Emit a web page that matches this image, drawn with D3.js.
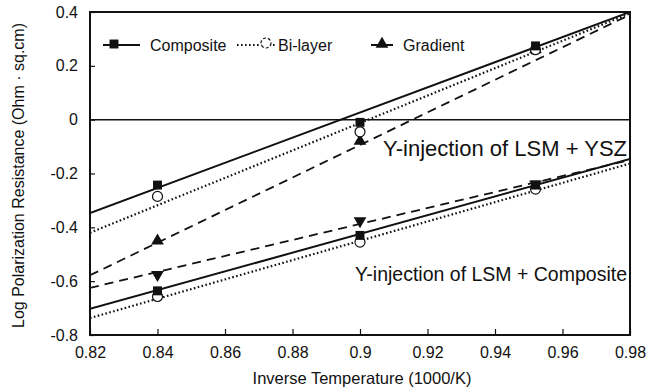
<!DOCTYPE html>
<html>
<head>
<meta charset="utf-8">
<script src="https://cdn.jsdelivr.net/npm/d3@7"></script>
<style>
  html, body { margin: 0; padding: 0; background: #fff; }
  svg { display: block; }
  text { font-family: "Liberation Sans", Arial, sans-serif; fill: #111; }
</style>
</head>
<body>
<svg id="chart" width="659" height="389"></svg>
<script>
// ---------- data ----------
const xTicks = [0.82, 0.84, 0.86, 0.88, 0.9, 0.92, 0.94, 0.96, 0.98];
const xTickLabels = ["0.82", "0.84", "0.86", "0.88", "0.9", "0.92", "0.94", "0.96", "0.98"];
const yTicks = [-0.8, -0.6, -0.4, -0.2, 0, 0.2, 0.4];
const yTickLabels = ["-0.8", "-0.6", "-0.4", "-0.2", "0", "0.2", "0.4"];

const tempX = [0.84, 0.9, 0.952];
// LSM + YSZ group
const yszComposite = [-0.243, -0.01, 0.274];
const yszBilayer   = [-0.285, -0.045, 0.26];
const yszGradient  = [-0.45, -0.08, 0.26];
// LSM + Composite group
const compComposite = [-0.636, -0.43, -0.243];
const compBilayer   = [-0.657, -0.455, -0.258];
const compGradient  = [-0.576, -0.376, -0.24];

// fitted lines (values at x = 0.82 and x = 0.98)
const fitX = [0.82, 0.98];
const yszCompositeFit  = [-0.347, 0.40];
const yszBilayerFit    = [-0.42, 0.395];
const yszGradientFit   = [-0.578, 0.39];
const compCompositeFit = [-0.703, -0.146];
const compBilayerFit   = [-0.737, -0.163];
const compGradientFit  = [-0.625, -0.150];

const legendNames = ["Composite", "Bi-layer", "Gradient"];
const groupLabels = ["Y-injection of LSM + YSZ", "Y-injection of LSM + Composite"];

// ---------- layout ----------
const svg = d3.select("#chart");
const M = { left: 90, right: 630, top: 12, bottom: 335 };
const x = d3.scaleLinear().domain([0.82, 0.98]).range([M.left, M.right]);
const y = d3.scaleLinear().domain([-0.8, 0.4]).range([M.bottom, M.top]);

const styles = {
  composite: { dash: null, width: 2 },
  bilayer:   { dash: "1.6,2.4", width: 2.2 },
  gradient:  { dash: "9,6", width: 1.8 }
};

svg.append("defs").append("clipPath").attr("id", "clip")
  .append("rect").attr("x", M.left).attr("y", M.top)
  .attr("width", M.right - M.left).attr("height", M.bottom - M.top);

const plot = svg.append("g").attr("clip-path", "url(#clip)");

// zero line
plot.append("line")
  .attr("x1", x(0.82)).attr("x2", x(0.98))
  .attr("y1", y(0)).attr("y2", y(0))
  .attr("stroke", "#111").attr("stroke-width", 1.5);

const line = d3.line().x(d => x(d[0])).y(d => y(d[1]));

function fit(vals, st) {
  plot.append("path")
    .datum(fitX.map((v, i) => [v, vals[i]]))
    .attr("d", line)
    .attr("fill", "none")
    .attr("stroke", "#111")
    .attr("stroke-width", st.width)
    .attr("stroke-dasharray", st.dash);
}
fit(yszCompositeFit, styles.composite);
fit(yszBilayerFit, styles.bilayer);
fit(yszGradientFit, styles.gradient);
fit(compCompositeFit, styles.composite);
fit(compBilayerFit, styles.bilayer);
fit(compGradientFit, styles.gradient);

const sqSym = d3.symbol().type(d3.symbolSquare).size(80);
const triUp = d3.symbol().type(d3.symbolTriangle).size(70);

function markers(vals, kind) {
  const g = plot.append("g");
  vals.forEach((v, i) => {
    const cx = x(tempX[i]), cy = y(v);
    if (kind === "square") {
      g.append("path").attr("d", sqSym()).attr("transform", `translate(${cx},${cy})`).attr("fill", "#111");
    } else if (kind === "circle") {
      g.append("circle").attr("cx", cx).attr("cy", cy).attr("r", 5)
        .attr("fill", "#fff").attr("stroke", "#111").attr("stroke-width", 1.2);
    } else if (kind === "up") {
      g.append("path").attr("d", triUp()).attr("transform", `translate(${cx},${cy})`).attr("fill", "#111");
    } else if (kind === "down") {
      g.append("path").attr("d", triUp()).attr("transform", `translate(${cx},${cy}) rotate(180)`).attr("fill", "#111");
    }
  });
}
markers(yszGradient, "up");
markers(yszBilayer, "circle");
markers(yszComposite, "square");
markers(compGradient, "down");
markers(compBilayer, "circle");
markers(compComposite, "square");

// ---------- axes ----------
const xAxis = d3.axisBottom(x).tickValues(xTicks).tickFormat((d, i) => xTickLabels[i])
  .tickSizeInner(-6).tickSizeOuter(0).tickPadding(12);
const gx = svg.append("g").attr("transform", `translate(0,${M.bottom})`).call(xAxis);
gx.select(".domain").remove();
gx.selectAll("line").attr("stroke", "#111").attr("stroke-width", 1.2);
gx.selectAll("text").attr("font-size", 16).attr("fill", "#111")
  .attr("font-family", "'Liberation Sans', Arial, sans-serif");

const yAxis = d3.axisLeft(y).tickValues(yTicks).tickFormat((d, i) => yTickLabels[i])
  .tickSizeInner(-5).tickSizeOuter(0).tickPadding(12);
const gy = svg.append("g").attr("transform", `translate(${M.left},0)`).call(yAxis);
gy.select(".domain").remove();
gy.selectAll("line").attr("stroke", "#111").attr("stroke-width", 1.2);
gy.selectAll("text").attr("font-size", 16).attr("fill", "#111")
  .attr("font-family", "'Liberation Sans', Arial, sans-serif");

// frame
svg.append("rect")
  .attr("x", M.left).attr("y", M.top)
  .attr("width", M.right - M.left).attr("height", M.bottom - M.top)
  .attr("fill", "none").attr("stroke", "#111").attr("stroke-width", 2);

// axis titles
svg.append("text")
  .attr("x", (M.left + M.right) / 2 + 2).attr("y", 384)
  .attr("text-anchor", "middle").attr("font-size", 16.5)
  .text("Inverse Temperature (1000/K)");
svg.append("text")
  .attr("transform", `translate(24,${(M.top + M.bottom) / 2 + 2}) rotate(-90)`)
  .attr("text-anchor", "middle").attr("font-size", 16)
  .text("Log Polarization Resistance (Ohm · sq.cm)");

// group labels
svg.append("text").attr("x", 627).attr("y", 156).attr("text-anchor", "end")
  .attr("font-size", 22).text(groupLabels[0]);
svg.append("text").attr("x", 627).attr("y", 281).attr("text-anchor", "end")
  .attr("font-size", 19.5).text(groupLabels[1]);

// ---------- legend ----------
const lg = svg.append("g");
const ly = 45;
// Composite
lg.append("line").attr("x1", 103).attr("x2", 140).attr("y1", ly).attr("y2", ly)
  .attr("stroke", "#111").attr("stroke-width", 2.2);
lg.append("path").attr("d", sqSym()).attr("transform", `translate(114,${ly - 1})`).attr("fill", "#111");
lg.append("text").attr("x", 150).attr("y", ly + 6).attr("font-size", 16).text(legendNames[0]);
// Bi-layer
lg.append("line").attr("x1", 237).attr("x2", 277).attr("y1", ly).attr("y2", ly)
  .attr("stroke", "#111").attr("stroke-width", 2.2).attr("stroke-dasharray", "1.6,2.4");
lg.append("circle").attr("cx", 266).attr("cy", ly - 2).attr("r", 5)
  .attr("fill", "#fff").attr("stroke", "#111").attr("stroke-width", 1.2).attr("stroke-dasharray", "3,2");
lg.append("text").attr("x", 278).attr("y", ly + 6).attr("font-size", 16).text(legendNames[1]);
// Gradient
lg.append("line").attr("x1", 371).attr("x2", 396).attr("y1", ly).attr("y2", ly)
  .attr("stroke", "#111").attr("stroke-width", 2).attr("stroke-dasharray", "9,4");
lg.append("path").attr("d", triUp()).attr("transform", `translate(382,${ly - 1})`).attr("fill", "#111");
lg.append("text").attr("x", 403).attr("y", ly + 6).attr("font-size", 16).text(legendNames[2]);
</script>
</body>
</html>
